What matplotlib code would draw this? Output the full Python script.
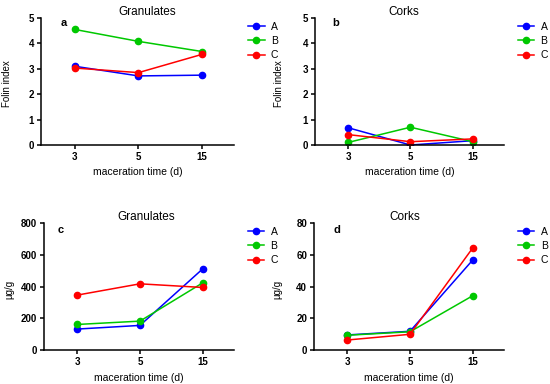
import numpy as np
import matplotlib.pyplot as plt

plt.rcParams['font.family'] = ['Liberation Sans', 'DejaVu Sans']

# Data
days = ['3', '5', '15']
series = ['A', 'B', 'C']
colors = ['#0000FF', '#00C800', '#FF0000']

folin_gran = {'A': [3.10, 2.72, 2.75], 'B': [4.55, 4.08, 3.68], 'C': [3.03, 2.85, 3.57]}
folin_cork = {'A': [0.68, 0.00, 0.17], 'B': [0.10, 0.70, 0.13], 'C': [0.41, 0.13, 0.24]}
ug_gran = {'A': [132, 155, 511], 'B': [161, 182, 423], 'C': [346, 417, 394]}
ug_cork = {'A': [9.5, 11.8, 56.7], 'B': [9.3, 11.5, 34.2], 'C': [6.3, 9.9, 64.3]}

fig = plt.figure(figsize=(5.5, 3.84), dpi=100)

panels = [
    # rect, data, title, letter, ylabel, ymax, ystep, title_x, letter_xy, ylabel_x
    ([0.0745, 0.6224, 0.351, 0.3307], folin_gran, 'Granulates', 'a', 'Folin index', 5, 1, 0.55, (0.10, 0.96), -0.150),
    ([0.5727, 0.6224, 0.3436, 0.3307], folin_cork, 'Corks', 'b', 'Folin index', 5, 1, 0.47, (0.09, 0.96), -0.165),
    ([0.08, 0.0885, 0.3455, 0.3307], ug_gran, 'Granulates', 'c', 'µg/g', 800, 200, 0.54, (0.07, 0.945), -0.158),
    ([0.571, 0.0885, 0.3455, 0.3307], ug_cork, 'Corks', 'd', 'µg/g', 80, 20, 0.476, (0.10, 0.945), -0.165),
]

x = np.arange(len(days))
for rect, data, title, letter, ylabel, ymax, ystep, tx, (lx, ly), ylx in panels:
    ax = fig.add_axes(rect)
    for name, c in zip(series, colors):
        ax.plot(x, data[name], color=c, marker='o', markersize=4.5, linewidth=1.1, label=name)
    ax.set_xlim(-0.53, 2.5)
    ax.set_ylim(0, ymax)
    ax.set_yticks(np.arange(0, ymax + ystep / 2, ystep))
    ax.set_xticks(x)
    ax.set_xticklabels(days)
    for s in ['top', 'right']:
        ax.spines[s].set_visible(False)
    for s in ['left', 'bottom']:
        ax.spines[s].set_linewidth(1.1)
    ax.tick_params(width=1.1, length=3, labelsize=7, pad=2)
    for lab in ax.get_xticklabels() + ax.get_yticklabels():
        lab.set_fontweight('bold')
    ax.set_xlabel('maceration time (d)', fontsize=7.5, labelpad=4)
    ax.set_ylabel(ylabel, fontsize=7)
    ax.yaxis.set_label_coords(ylx, 0.48)
    ax.text(tx, 1.0, title, transform=ax.transAxes, ha='center', va='bottom', fontsize=8.5)
    ax.text(lx, ly, letter, transform=ax.transAxes, ha='left', va='center',
            fontsize=8, fontweight='bold')
    ax.legend(loc='upper left', bbox_to_anchor=(1.05, 1.005), frameon=False,
              fontsize=7.5, handlelength=1.6, handletextpad=0.6, labelspacing=0.42,
              borderaxespad=0)

fig.savefig('out.png', dpi=100)
